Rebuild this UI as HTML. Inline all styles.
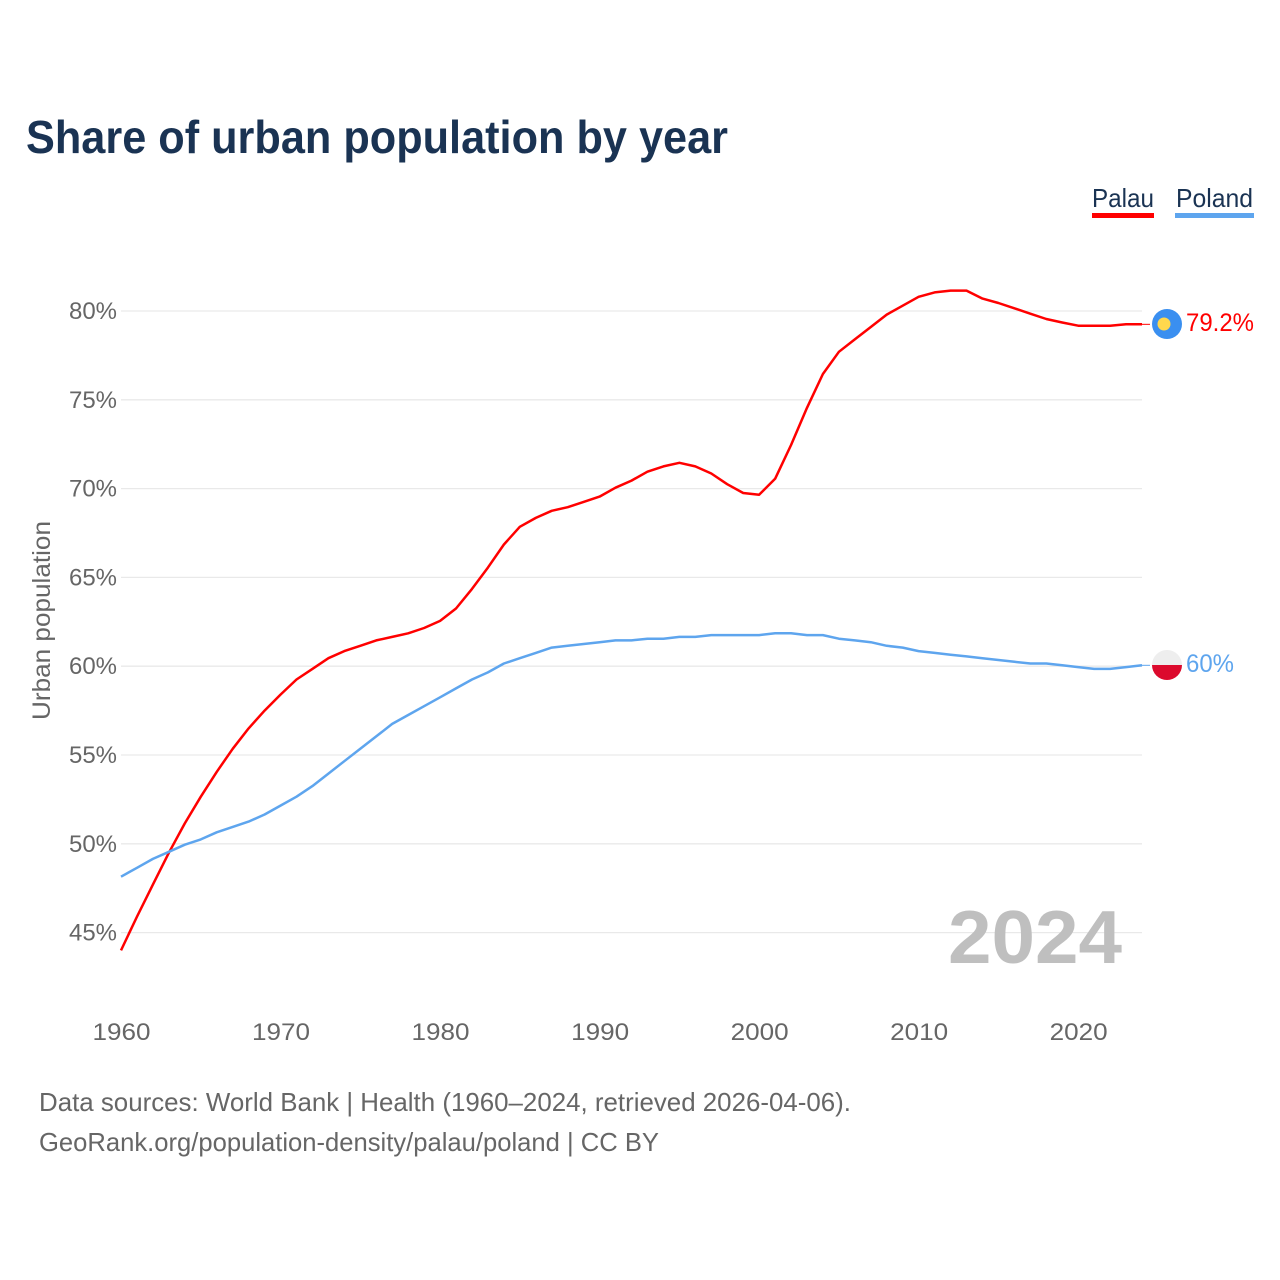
<!DOCTYPE html>
<html lang="en">
<head>
<meta charset="utf-8">
<title>Share of urban population by year</title>
<style>
html,body{margin:0;padding:0;background:#fff;width:1280px;height:1280px;overflow:hidden}
svg{display:block}
text{font-family:"Liberation Sans",sans-serif}
</style>
</head>
<body>
<svg id="chart" width="1280" height="1280" viewBox="0 0 1280 1280" xmlns="http://www.w3.org/2000/svg">
  <text x="26" y="153" font-size="46" font-weight="700" fill="#1a3353" textLength="702" lengthAdjust="spacingAndGlyphs">Share of urban population by year</text>
  <g>
    <text x="1092" y="207" font-size="26" fill="#1a3353" textLength="62" lengthAdjust="spacingAndGlyphs">Palau</text>
    <rect x="1092" y="213" width="62" height="5" fill="#ff0000"/>
    <text x="1176" y="207" font-size="26" fill="#1a3353" textLength="77" lengthAdjust="spacingAndGlyphs">Poland</text>
    <rect x="1175" y="213" width="79" height="5" fill="#5ea5ee"/>
  </g>
  <g id="grid"></g>
  <g id="yticks"></g>
  <g id="xticks"></g>
  <text transform="translate(50,720) rotate(-90)" font-size="25" fill="#666666" textLength="199" lengthAdjust="spacingAndGlyphs">Urban population</text>
  <text x="948" y="963" font-size="75" font-weight="700" fill="#bfbfbf" textLength="174" lengthAdjust="spacingAndGlyphs">2024</text>
  <g id="lines"></g>
  <g>
    <circle cx="1167" cy="324" r="15" fill="#3a8ff0"/>
    <circle cx="1164" cy="324" r="6.5" fill="#ffd84d"/>
  </g>
  <g>
    <clipPath id="polandClip"><circle cx="1167" cy="665" r="15"/></clipPath>
    <rect x="1152" y="650" width="30" height="15" fill="#eeeeee" clip-path="url(#polandClip)"/>
    <rect x="1152" y="665" width="30" height="15" fill="#dc0a2d" clip-path="url(#polandClip)"/>
  </g>
  <text x="1186" y="331" font-size="25" fill="#ff0000" textLength="68" lengthAdjust="spacingAndGlyphs">79.2%</text>
  <text x="1186" y="672" font-size="25" fill="#5ea5ee" textLength="48" lengthAdjust="spacingAndGlyphs">60%</text>
  <text x="39" y="1111" font-size="26" fill="#666666" textLength="812" lengthAdjust="spacingAndGlyphs">Data sources: World Bank | Health (1960–2024, retrieved 2026-04-06).</text>
  <text x="39" y="1151" font-size="26" fill="#666666" textLength="620" lengthAdjust="spacingAndGlyphs">GeoRank.org/population-density/palau/poland | CC BY</text>
</svg>
<script>
const startYear = 1960;
const yTickValues = [45, 50, 55, 60, 65, 70, 75, 80];
const xTickYears = [1960, 1970, 1980, 1990, 2000, 2010, 2020];
const palauValues = [44.0,45.9,47.7,49.5,51.15,52.65,54.05,55.35,56.5,57.5,58.4,59.25,59.85,60.45,60.85,61.15,61.45,61.65,61.85,62.15,62.55,63.25,64.35,65.55,66.85,67.85,68.35,68.75,68.95,69.25,69.55,70.05,70.45,70.95,71.25,71.45,71.25,70.85,70.25,69.75,69.65,70.55,72.45,74.55,76.45,77.7,78.4,79.1,79.8,80.3,80.8,81.05,81.15,81.15,80.7,80.45,80.15,79.85,79.55,79.35,79.17,79.17,79.17,79.25,79.25];
const polandValues = [48.15,48.65,49.15,49.55,49.95,50.25,50.65,50.95,51.25,51.65,52.15,52.65,53.25,53.95,54.65,55.35,56.05,56.75,57.25,57.75,58.25,58.75,59.25,59.65,60.15,60.45,60.75,61.05,61.15,61.25,61.35,61.45,61.45,61.55,61.55,61.65,61.65,61.75,61.75,61.75,61.75,61.85,61.85,61.75,61.75,61.55,61.45,61.35,61.15,61.05,60.85,60.75,60.65,60.55,60.45,60.35,60.25,60.15,60.15,60.05,59.95,59.85,59.85,59.95,60.05];

const NS = 'http://www.w3.org/2000/svg';
const xScale = function (year) { return 121 + (year - 1960) * 15.953; };
const yScale = function (v) { return 311 + (80 - v) * 17.76; };
function make(tag, parent) {
  const el = document.createElementNS(NS, tag);
  parent.appendChild(el);
  return el;
}
const gridG = document.getElementById('grid');
const yG = document.getElementById('yticks');
const xG = document.getElementById('xticks');
const linesG = document.getElementById('lines');

yTickValues.forEach(function (v) {
  const gl = make('line', gridG);
  
  
  gl.setAttribute('x1', 121);
  gl.setAttribute('x2', 1142);
  gl.setAttribute('y1', yScale(v));
  gl.setAttribute('y2', yScale(v));
  gl.setAttribute('stroke', '#e9e9e9');
  gl.setAttribute('stroke-width', '1.3');
  const t = make('text', yG);
  
  
  t.setAttribute('x', 69);
  t.setAttribute('y', yScale(v) + 8);
  t.setAttribute('font-size', '24');
  t.setAttribute('fill', '#666666');
  t.setAttribute('textLength', '48');
  t.setAttribute('lengthAdjust', 'spacingAndGlyphs');
  t.textContent = v + '%';
});
xTickYears.forEach(function (yr) {
  const t = make('text', xG);
  
  
  t.setAttribute('x', xScale(yr) - 28.5);
  t.setAttribute('y', 1040);
  t.setAttribute('font-size', '24');
  t.setAttribute('fill', '#666666');
  t.setAttribute('textLength', '58');
  t.setAttribute('lengthAdjust', 'spacingAndGlyphs');
  t.textContent = yr;
});
function drawSeries(values, color, name) {
  const pts = values.map(function (v, i) { return xScale(startYear + i).toFixed(1) + ',' + yScale(v).toFixed(1); }).join(' ');
  const pl = make('polyline', linesG);
  
  
  pl.setAttribute('points', pts);
  pl.setAttribute('fill', 'none');
  pl.setAttribute('stroke', color);
  pl.setAttribute('stroke-width', '2.5');
  pl.setAttribute('stroke-linejoin', 'round');
  const last = values[values.length - 1];
  const lastX = xScale(startYear + values.length - 1);
  const stub = make('line', linesG);
  
  
  stub.setAttribute('x1', lastX);
  stub.setAttribute('x2', lastX + 8);
  stub.setAttribute('y1', yScale(last));
  stub.setAttribute('y2', yScale(last));
  stub.setAttribute('stroke', color);
  stub.setAttribute('stroke-width', '1');
}
drawSeries(palauValues, '#ff0000', 'line-palau');
drawSeries(polandValues, '#5ea5ee', 'line-poland');
</script>
</body>
</html>
